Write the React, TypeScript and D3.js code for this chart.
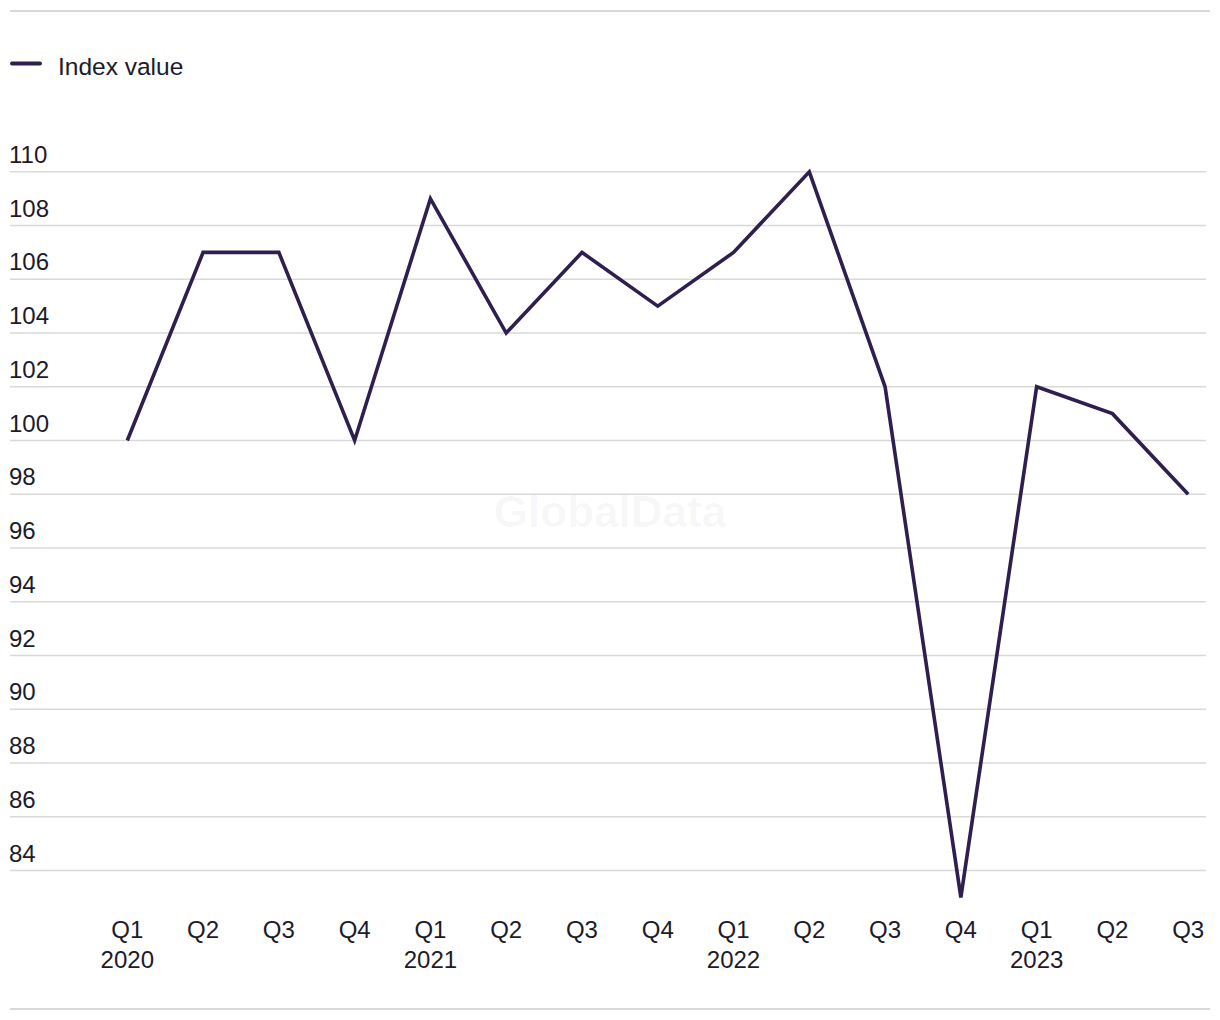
import React from "react";
import * as d3 from "d3";

const categories: string[] = ["Q1","Q2","Q3","Q4","Q1","Q2","Q3","Q4","Q1","Q2","Q3","Q4","Q1","Q2","Q3"];
const years: string[] = ["2020","","","","2021","","","","2022","","","","2023","",""];
const values: number[] = [100,107,107,100,109,104,107,105,107,110,102,83,102,101,98];
const yTicks: number[] = [84,86,88,90,92,94,96,98,100,102,104,106,108,110];
const seriesName = "Index value";

const W = 1220;
const H = 1020;
const LINE = "#2e1f4f";
const TEXT = "#1c1a2b";
const GRID = "#d9d9d9";
const FONT = "'Liberation Sans', Arial, sans-serif";

export default function App() {
  const x = d3.scalePoint<number>().domain(d3.range(values.length)).range([127.3, 1188.2]);
  const y = d3.scaleLinear().domain([84, 110]).range([870.5, 171.8]);
  const line = d3.line<number>().x((_, i) => x(i) as number).y((d) => y(d));

  return (
    <svg width={W} height={H} style={{ position: "absolute", left: 0, top: 0, background: "#fff" }}>
      <line x1={10} x2={1210} y1={11} y2={11} stroke={GRID} strokeWidth={2} />
      <line x1={10} x2={1210} y1={1009} y2={1009} stroke={GRID} strokeWidth={2} />
      <text x={610} y={527} textAnchor="middle" fontFamily={FONT} fontWeight="bold" fontSize={44} fill="#000" fillOpacity={0.035}>GlobalData</text>
      <line x1={12} x2={40} y1={63.5} y2={63.5} stroke={LINE} strokeWidth={4} strokeLinecap="round" />
      <text x={58} y={75} fontFamily={FONT} fontSize={24.5} fill={TEXT}>{seriesName}</text>
      {yTicks.map((t) => (
        <g key={t}>
          <line x1={10} x2={1206} y1={y(t)} y2={y(t)} stroke={GRID} strokeWidth={1.5} />
          <text x={9} y={y(t) - 9} fontFamily={FONT} fontSize={24} fill={TEXT}>{t}</text>
        </g>
      ))}
      <path d={line(values) || ""} fill="none" stroke={LINE} strokeWidth={3.6} strokeLinejoin="miter" />
      {categories.map((c, i) => (
        <g key={i}>
          <text x={x(i)} y={938} textAnchor="middle" fontFamily={FONT} fontSize={24} fill={TEXT}>{c}</text>
          {years[i] && (
            <text x={x(i)} y={968} textAnchor="middle" fontFamily={FONT} fontSize={24} fill={TEXT}>{years[i]}</text>
          )}
        </g>
      ))}
    </svg>
  );
}
